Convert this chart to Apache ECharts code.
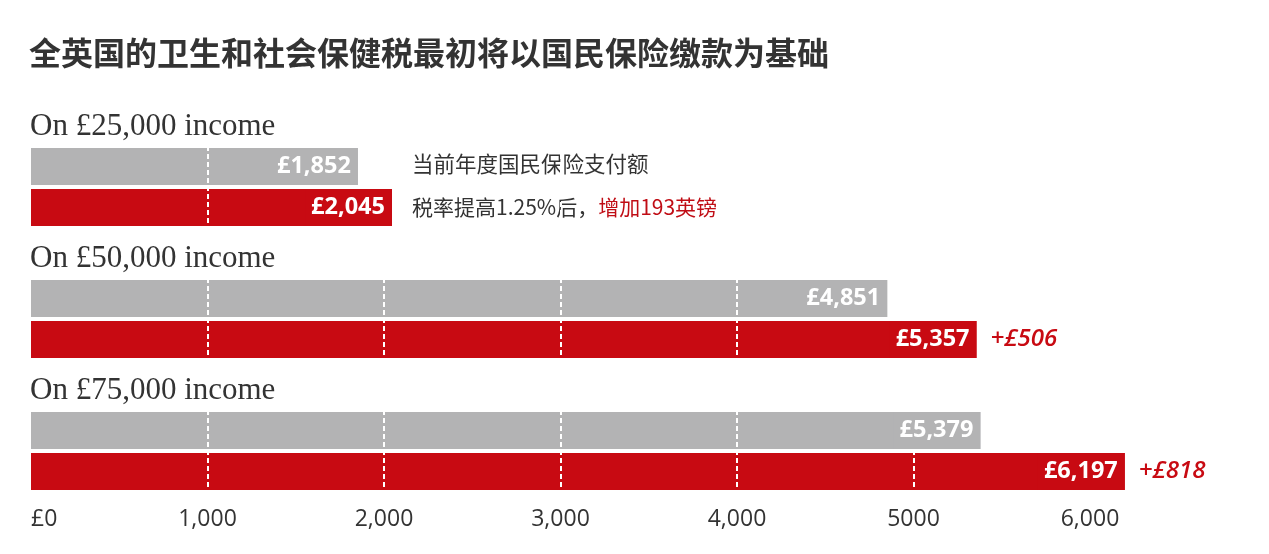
<!DOCTYPE html>
<html lang="zh">
<head>
    <meta charset="UTF-8">
    <title>国民保险缴款</title>
    <script src="https://cdn.jsdelivr.net/npm/echarts@6/dist/echarts.min.js"></script>
    <style>
        html, body { margin: 0; padding: 0; background: #fff; }
        #chart { width: 1269px; height: 554px; }
    </style>
</head>
<body>
<div id="chart"></div>
<script>
    // 数据
    var groupLabels = ['On £25,000 income', 'On £50,000 income', 'On £75,000 income'];
    var currentNI = [1852, 4851, 5379];   // 当前年度国民保险支付额
    var raisedNI = [2045, 5357, 6197];    // 税率提高1.25%后
    var tickLabels = ['£0', '1,000', '2,000', '3,000', '4,000', '5000', '6,000'];

    var GREY = '#b3b3b4';
    var RED = '#c80a12';
    var gridTops = [146, 278, 410];

    var myChart = echarts.init(document.getElementById('chart'));

    function money(v) {
        return '£' + v.toLocaleString('en-US');
    }

    var grids = [], xAxes = [], yAxes = [], series = [], titles = [];

    titles.push({
        text: '全英国的卫生和社会保健税最初将以国民保险缴款为基础',
        left: 29, top: 37, padding: 0,
        textStyle: {fontFamily: 'Noto Sans CJK SC', fontSize: 32, fontWeight: 'bold', color: '#333'}
    });

    groupLabels.forEach(function (name, i) {
        titles.push({
            text: name,
            left: 30, top: gridTops[i] - 35, padding: 0,
            textStyle: {fontFamily: 'Liberation Serif', fontSize: 31, fontWeight: 'normal', color: '#333'}
        });

        grids.push({left: 31, width: 1059, top: gridTops[i], height: 82});

        xAxes.push({
            gridIndex: i, type: 'value', min: 0, max: 6000, interval: 1000, z: 3,
            axisLine: {show: false}, axisTick: {show: false},
            axisLabel: {
                show: i === 2, margin: 16, fontSize: 23, color: '#333',
                fontFamily: 'Open Sans', alignMinLabel: 'left',
                formatter: function (v) { return tickLabels[v / 1000]; }
            },
            splitLine: {show: true, showMinLine: false, lineStyle: {color: '#fff', width: 2, type: [5, 3]}}
        });

        yAxes.push({gridIndex: i, type: 'category', data: ['current', 'raised'], inverse: true, show: false});

        var diff = raisedNI[i] - currentNI[i];
        // 柱子本身(z 在网格线之下)
        series.push({
            type: 'bar', xAxisIndex: i, yAxisIndex: i, barWidth: 37, barGap: '-100%', z: 2, clip: false,
            silent: true,
            data: [
                {value: currentNI[i], itemStyle: {color: GREY}},
                {value: raisedNI[i], itemStyle: {color: RED},
                    label: {show: i > 0, position: 'right', distance: 14, formatter: '+£' + diff,
                        color: RED, fontStyle: 'italic', fontWeight: 600, fontSize: 24, fontFamily: 'Open Sans'}}
            ]
        });
        // 透明覆盖层，只负责数值标签(在网格线之上)
        series.push({
            type: 'bar', xAxisIndex: i, yAxisIndex: i, barWidth: 37, barGap: '-100%', z: 4, clip: false,
            silent: true,
            itemStyle: {color: 'rgba(0,0,0,0)'},
            label: {
                show: true, position: 'insideRight', distance: 0,
                color: '#fff', fontWeight: 'bold', fontSize: 23.5, fontFamily: 'Open Sans',
                lineHeight: 37, padding: [0, 7, 0, 6],
                formatter: function (p) { return money(p.value); }
            },
            data: [
                {value: currentNI[i], label: {backgroundColor: GREY}},
                {value: raisedNI[i], label: {backgroundColor: RED}}
            ]
        });
    });

    var option = {
        animation: false,
        title: titles,
        grid: grids,
        xAxis: xAxes,
        yAxis: yAxes,
        series: series,
        graphic: [
            {
                type: 'text', left: 412, top: 153,
                style: {text: '当前年度国民保险支付额', font: '21.5px "Noto Sans CJK SC"', fill: '#333'}
            },
            {
                type: 'text', left: 412, top: 197,
                style: {
                    text: '{a|税率提高1.25%后，}{b|增加' + (raisedNI[0] - currentNI[0]) + '英镑}',
                    rich: {
                        a: {fontFamily: 'Noto Sans CJK SC', fontSize: 21, fill: '#333'},
                        b: {fontFamily: 'Noto Sans CJK SC', fontSize: 21, fill: '#c00d15'}
                    }
                }
            }
        ]
    };

    myChart.setOption(option);
</script>
</body>
</html>
